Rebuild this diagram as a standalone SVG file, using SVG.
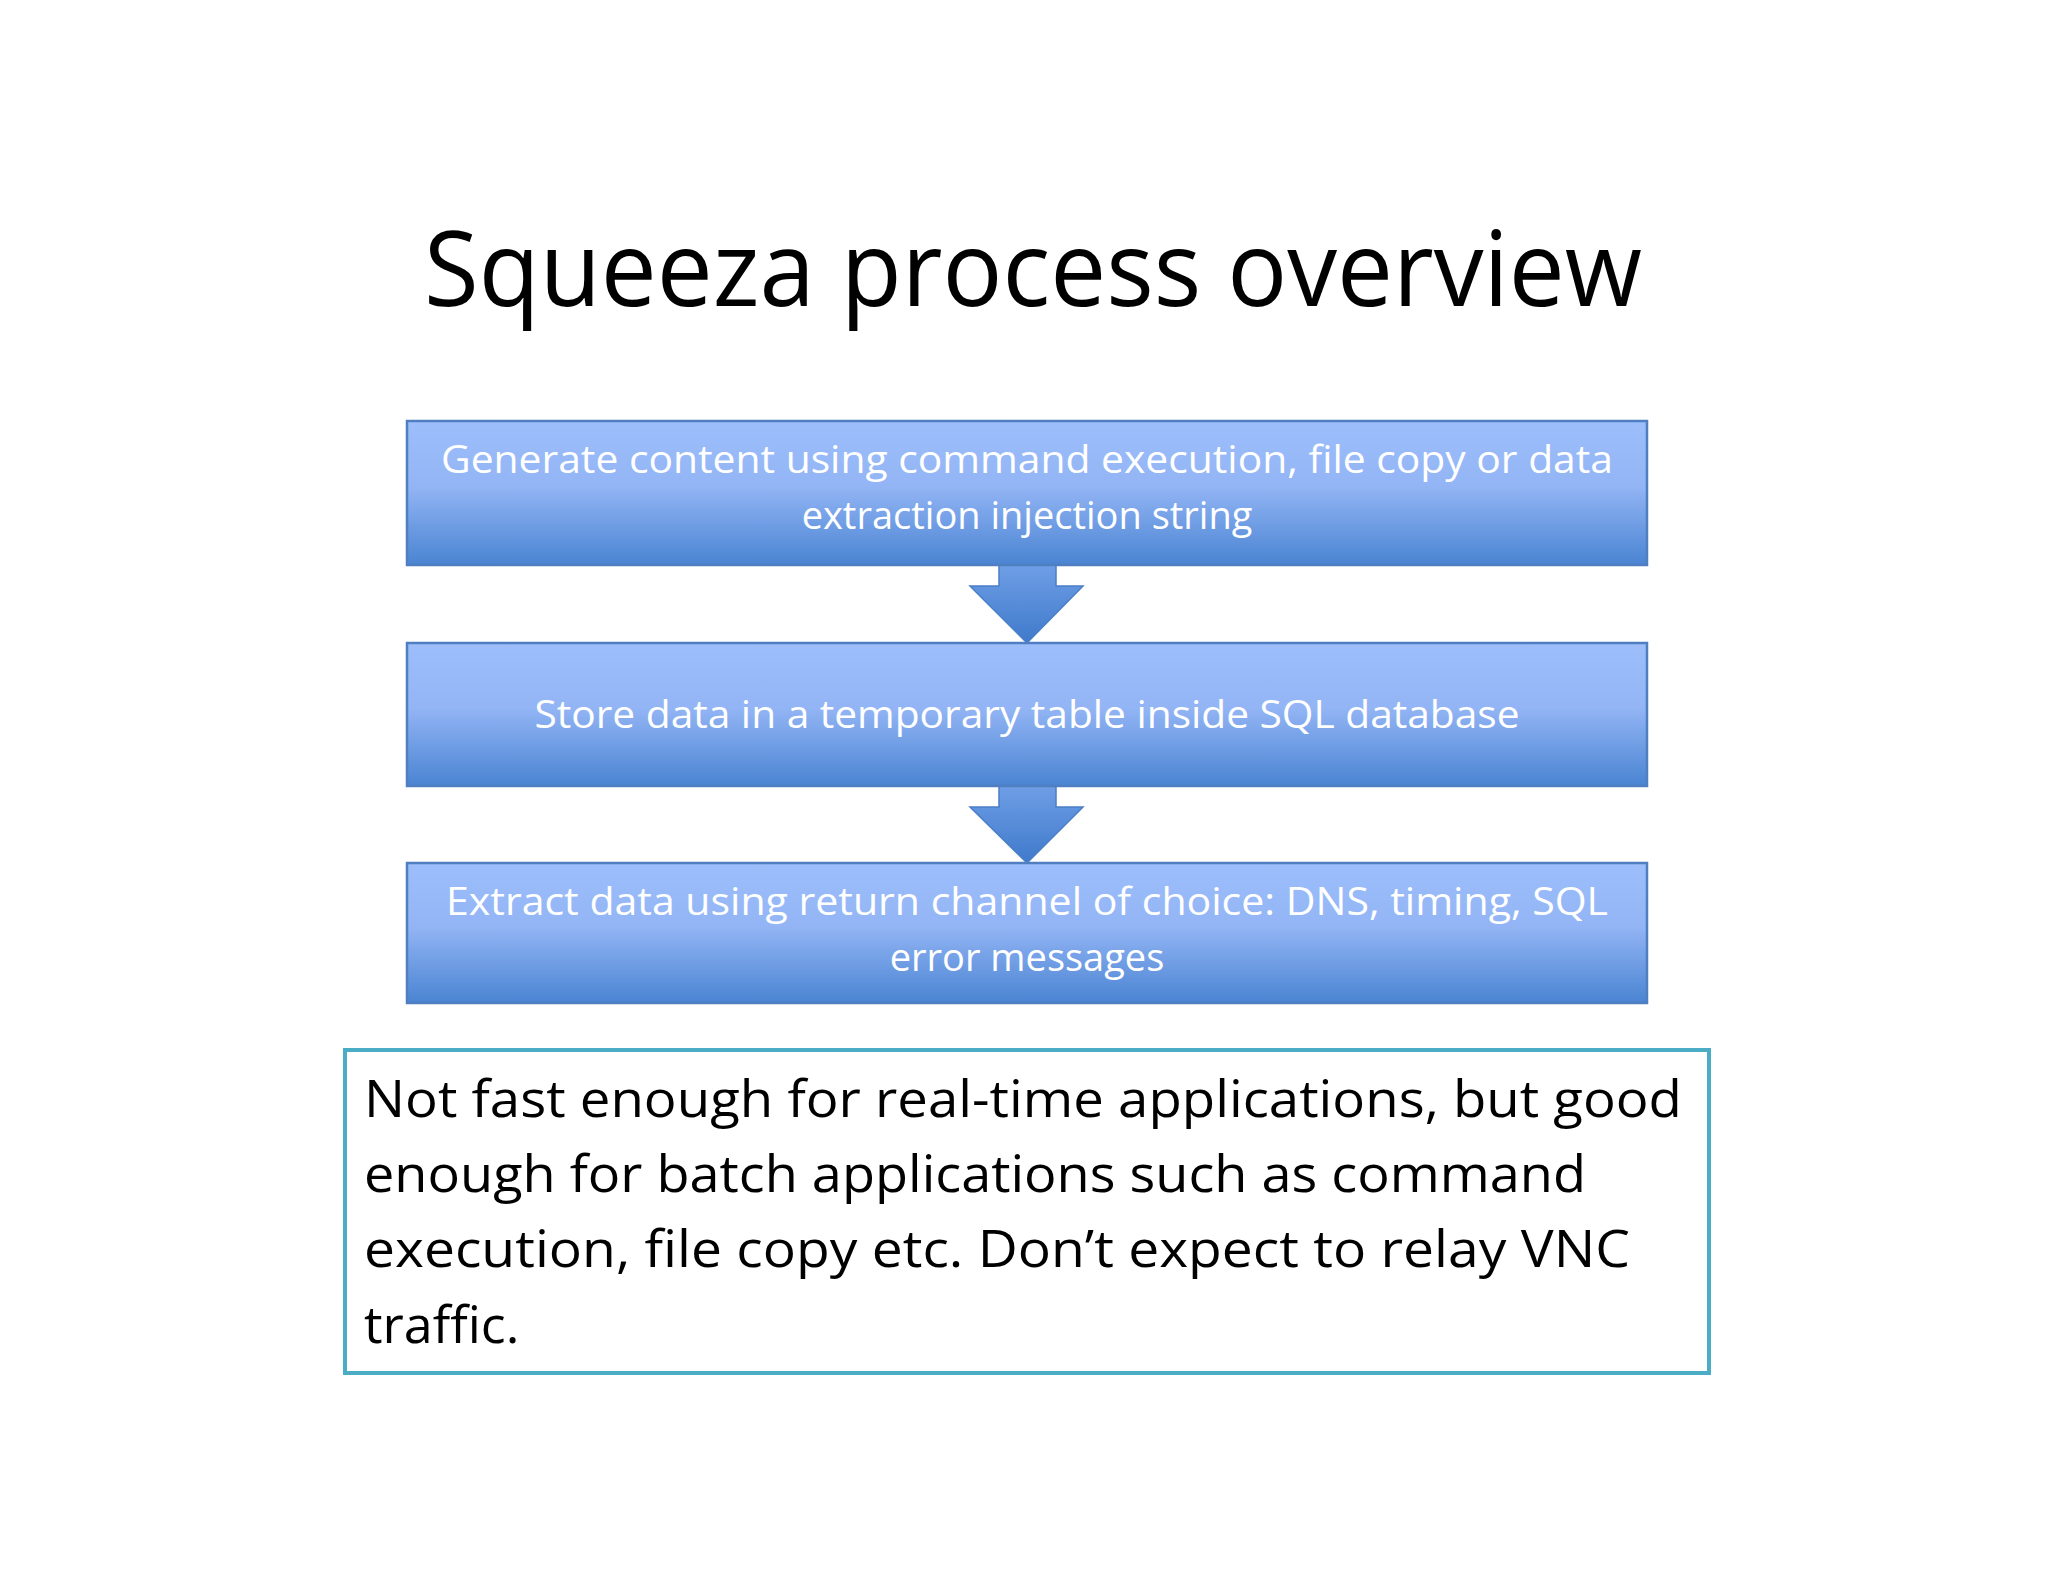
<svg xmlns="http://www.w3.org/2000/svg" width="2048" height="1582" viewBox="0 0 2048 1582">
<defs>
<linearGradient id="g" x1="0" y1="0" x2="0" y2="1"><stop offset="0" stop-color="#9dbefb"/><stop offset="0.45" stop-color="#93b5f5"/><stop offset="1" stop-color="#4a84d2"/></linearGradient>
<linearGradient id="ga" x1="0" y1="0" x2="0" y2="1"><stop offset="0" stop-color="#6f9ee6"/><stop offset="1" stop-color="#3f7acb"/></linearGradient>
<style>
.box{fill:url(#g);stroke:#4f7fc0;stroke-width:2.5}
.bt{font-family:"Open Sans",sans-serif;font-size:38px;fill:#fff;text-anchor:middle}
.nt{font-family:"Open Sans",sans-serif;font-size:52px;fill:#000}
</style>
</defs>
<rect width="2048" height="1582" fill="#fff"/>
<text x="1033" y="306" font-family="Open Sans, sans-serif" font-size="104" text-anchor="middle" textLength="1218" lengthAdjust="spacingAndGlyphs">Squeeza process overview</text>
<g id="connectors">
<path d="M999 565 H1056 V586 H1083 L1027 643 L970 586 H999 Z" fill="url(#ga)" stroke="#4a7fc8" stroke-width="1.5"/>
<path d="M999 786 H1056 V807 H1083 L1027 863 L970 807 H999 Z" fill="url(#ga)" stroke="#4a7fc8" stroke-width="1.5"/>
</g>
<g id="n1"><rect class="box" x="407" y="421" width="1240" height="144"/>
<text class="bt" x="1027" y="473" textLength="1172" lengthAdjust="spacingAndGlyphs">Generate content using command execution, file copy or data</text>
<text class="bt" x="1027" y="529">extraction injection string</text></g>
<g id="n2"><rect class="box" x="407" y="643" width="1240" height="143"/>
<text class="bt" x="1027" y="728" textLength="985" lengthAdjust="spacingAndGlyphs">Store data in a temporary table inside SQL database</text></g>
<g id="n3"><rect class="box" x="407" y="863" width="1240" height="140"/>
<text class="bt" x="1027" y="915" textLength="1162" lengthAdjust="spacingAndGlyphs">Extract data using return channel of choice: DNS, timing, SQL</text>
<text class="bt" x="1027" y="971">error messages</text></g>
<g id="note"><rect x="345" y="1050" width="1364" height="323" fill="#fff" stroke="#4bacc6" stroke-width="4"/>
<text class="nt" x="364" y="1117" textLength="1318" lengthAdjust="spacingAndGlyphs">Not fast enough for real-time applications, but good</text>
<text class="nt" x="364" y="1192" textLength="1222" lengthAdjust="spacingAndGlyphs">enough for batch applications such as command</text>
<text class="nt" x="364" y="1267" textLength="1266" lengthAdjust="spacingAndGlyphs">execution, file copy etc. Don’t expect to relay VNC</text>
<text class="nt" x="364" y="1343">traffic.</text></g>
</svg>
